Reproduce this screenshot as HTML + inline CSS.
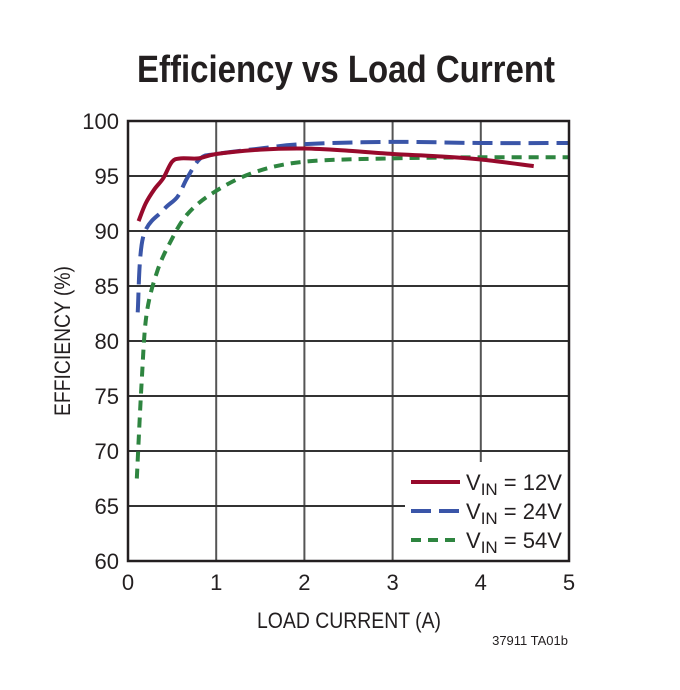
<!DOCTYPE html>
<html><head><meta charset="utf-8"><style>
html,body{margin:0;padding:0;background:#fff;width:680px;height:690px;overflow:hidden}
text{font-family:"Liberation Sans Narrow","Liberation Sans",sans-serif}
</style></head><body>
<svg id="chart" width="680" height="690" viewBox="0 0 680 690" xmlns="http://www.w3.org/2000/svg">
<text x="346" y="82" text-anchor="middle" font-size="38" font-weight="bold" fill="#231f20" textLength="418" lengthAdjust="spacingAndGlyphs">Efficiency vs Load Current</text>
<g id="grid"></g>
<g id="series"></g>
<g id="legend"></g>
<rect x="128" y="121" width="441" height="440" fill="none" stroke="#231f20" stroke-width="2.5"/>
<g id="ticks"></g>
<text x="349" y="628" text-anchor="middle" font-size="22" fill="#231f20" textLength="184" lengthAdjust="spacingAndGlyphs">LOAD CURRENT (A)</text>
<text transform="translate(70,341) rotate(-90)" text-anchor="middle" font-size="22" fill="#231f20" textLength="150" lengthAdjust="spacingAndGlyphs">EFFICIENCY (%)</text>
<text x="568" y="645" text-anchor="end" font-size="13" fill="#231f20">37911 TA01b</text>
</svg>
<script>
const xTicks=[0,1,2,3,4,5];
const yTicks=[60,65,70,75,80,85,90,95,100];
const x12=[0.12,0.2,0.3,0.4,0.5,0.6,0.8,1,1.5,2,2.5,3,3.5,4,4.6];
const y12=[90.9,92.5,93.8,94.8,96.3,96.6,96.6,97.0,97.4,97.5,97.3,97.0,96.8,96.5,95.9];
const x24=[0.11,0.17,0.4,0.56,0.67,0.82,1,1.5,2,3,4,5];
const y24=[82.6,89.4,91.9,93.1,94.8,96.6,97.0,97.5,97.9,98.1,98.0,98.0];
const x54=[0.1,0.155,0.21,0.33,0.48,0.67,0.97,1.42,2,3,4,5];
const y54=[67.5,76.3,82.4,86.3,89.0,91.5,93.5,95.3,96.3,96.6,96.7,96.7];
const X=v=>128+v*88.2, Y=v=>121+(100-v)*11;
const NS='http://www.w3.org/2000/svg';
function mk(tag,attrs,parent){const e=document.createElementNS(NS,tag);for(const k in attrs)e.setAttribute(k,attrs[k]);parent.appendChild(e);return e;}
const grid=document.getElementById('grid'),ticks=document.getElementById('ticks'),series=document.getElementById('series'),legend=document.getElementById('legend');
xTicks.forEach(t=>{const l=mk('line',{x1:X(t),x2:X(t),y1:121,y2:561,stroke:'#555','stroke-width':2},grid);


const tx=mk('text',{x:X(t),y:590,'text-anchor':'middle','font-size':22,fill:'#231f20'},ticks);tx.textContent=t;

});
yTicks.forEach(t=>{const l=mk('line',{x1:128,x2:569,y1:Y(t),y2:Y(t),stroke:'#333','stroke-width':2},grid);


const tx=mk('text',{x:119,y:Y(t)+8,'text-anchor':'end','font-size':22,fill:'#231f20'},ticks);tx.textContent=t;

});
function path(xs,ys){const p=xs.map((v,i)=>[X(v),Y(ys[i])]);let d='M'+p[0].join(',');
for(let i=0;i<p.length-1;i++){const p0=p[Math.max(0,i-1)],p1=p[i],p2=p[i+1],p3=p[Math.min(p.length-1,i+2)];
d+=` C${p1[0]+(p2[0]-p0[0])/6},${p1[1]+(p2[1]-p0[1])/6} ${p2[0]-(p3[0]-p1[0])/6},${p2[1]-(p3[1]-p1[1])/6} ${p2[0]},${p2[1]}`;}return d;}
const s54=mk('path',{d:path(x54,y54),fill:'none',stroke:'#2e8540','stroke-width':4,'stroke-dasharray':'10,7'},series);


const s24=mk('path',{d:path(x24,y24),fill:'none',stroke:'#3a55a8','stroke-width':4,'stroke-dasharray':'20,8'},series);


const s12=mk('path',{d:path(x12,y12),fill:'none',stroke:'#970a2c','stroke-width':4},series);


const bg=mk('rect',{x:405,y:462,width:163,height:98,fill:'#fff'},legend);


[['#970a2c','none','12V'],['#3a55a8','20,8','24V'],['#2e8540','10,7','54V']].forEach((e,i)=>{const y=482+i*29;
const l=mk('line',{x1:411,x2:460,y1:y,y2:y,stroke:e[0],'stroke-width':4,'stroke-dasharray':e[1]},legend);


const t=mk('text',{x:466,y:y+8,'font-size':22,fill:'#231f20'},legend);
t.innerHTML='V<tspan dy="5" font-size="17">IN</tspan><tspan dy="-5"> = '+e[2]+'</tspan>';

});
</script>
</body></html>
